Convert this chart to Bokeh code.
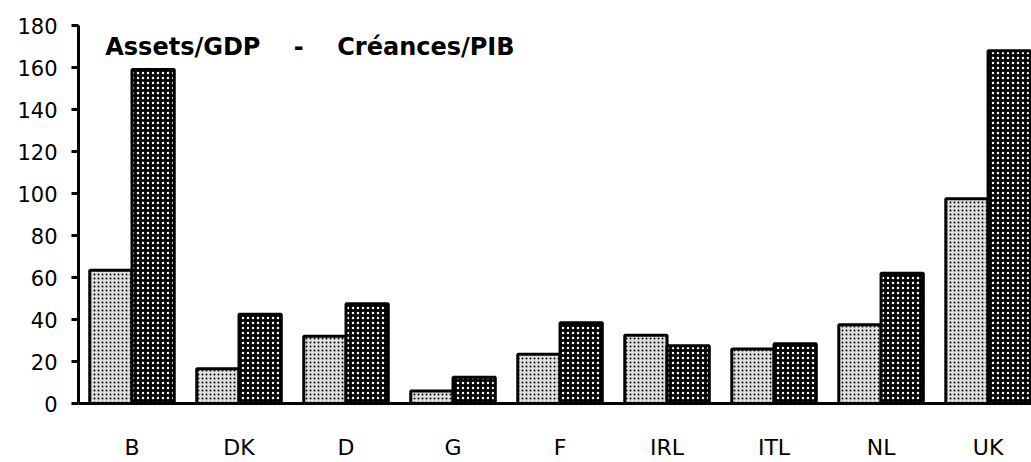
import numpy as np
from bokeh.plotting import figure
from bokeh.models import Range1d, FixedTicker, Label, ColumnDataSource
from bokeh.embed import file_html
from bokeh.resources import INLINE

countries = ["B", "DK", "D", "G", "F", "IRL", "ITL", "NL", "UK"]
series_light = [63.5, 16.5, 32.0, 6.0, 23.5, 32.5, 26.0, 37.5, 97.5]
series_dark = [159.0, 42.5, 47.5, 12.5, 38.5, 27.5, 28.5, 62.0, 168.0]
y_ticks = [0, 20, 40, 60, 80, 100, 120, 140, 160, 180]
gap = "\u00a0" * 4
title_text = "Assets/GDP" + gap + "-" + gap + "Créances/PIB"

pos = np.arange(len(countries)) + 0.5
bw = 0.395

src = ColumnDataSource(dict(
    xl=pos - bw / 2, xd=pos + bw / 2,
    light=series_light, dark=series_dark,
))

p = figure(width=1031, height=462, output_backend="svg", toolbar_location=None,
           x_range=Range1d(0, 8.906), y_range=Range1d(0, 180),
           min_border_left=78, min_border_right=0, min_border_top=25, min_border_bottom=49)
p.outline_line_color = None
p.grid.visible = False

p.vbar(x="xl", top="light", width=bw, bottom=0, source=src,
       fill_color="#e0e0e0", line_color="black", line_width=3,
       hatch_pattern=".", hatch_color="black", hatch_scale=4, hatch_weight=1)
p.vbar(x="xd", top="dark", width=bw, bottom=0, source=src,
       fill_color="black", line_color="black", line_width=3,
       hatch_pattern=".", hatch_color="white", hatch_scale=5, hatch_weight=1.3)

# y axis
p.yaxis.ticker = FixedTicker(ticks=y_ticks)
p.yaxis.axis_line_width = 3
p.yaxis.major_tick_line_width = 3
p.yaxis.major_tick_out = 7
p.yaxis.major_tick_in = 0
p.yaxis.minor_tick_line_color = None
p.yaxis.major_label_standoff = 14
p.yaxis.major_label_text_font = "DejaVu Sans"
p.yaxis.major_label_text_font_size = "21px"
p.yaxis.major_label_text_color = "black"

# x axis
p.xaxis.ticker = FixedTicker(ticks=list(pos))
p.xaxis.major_label_overrides = {float(v): c for v, c in zip(pos, countries)}
p.xaxis.axis_line_width = 3
p.xaxis.major_tick_line_color = None
p.xaxis.minor_tick_line_color = None
p.xaxis.major_label_standoff = 25
p.xaxis.major_label_text_font = "DejaVu Sans"
p.xaxis.major_label_text_font_size = "22px"
p.xaxis.major_label_text_color = "black"

p.add_layout(Label(x=0.25, y=169.8, text=title_text, text_font="DejaVu Sans",
                   text_font_style="bold", text_font_size="24px",
                   text_baseline="alphabetic", text_color="black"))

open("out.html", "w").write(file_html(p, INLINE))
